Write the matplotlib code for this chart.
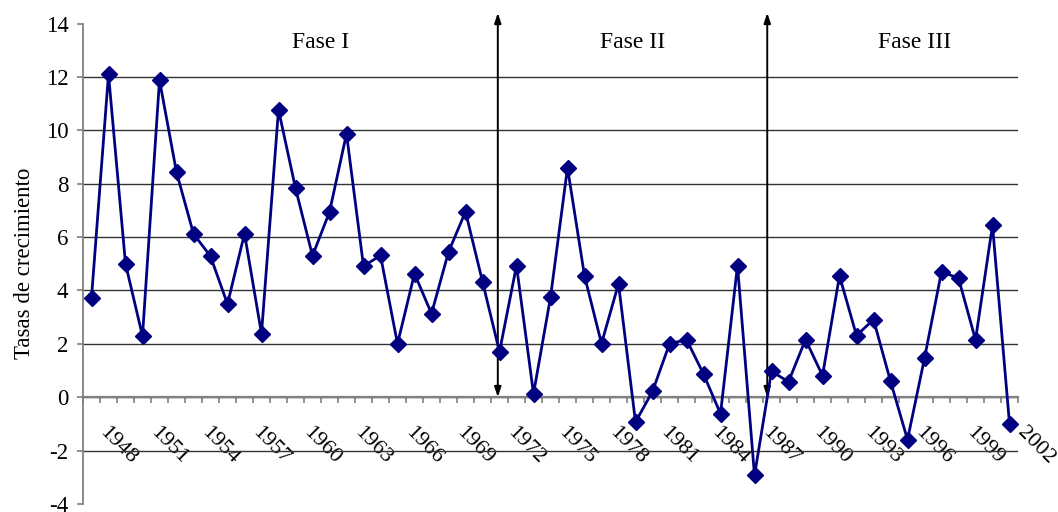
import numpy as np
import matplotlib
matplotlib.use("Agg")
import matplotlib.pyplot as plt
from matplotlib.transforms import ScaledTranslation

# datos
years = list(range(1948, 2003))
growth = [3.73, 12.1, 5.0, 2.29, 11.88, 8.43, 6.12, 5.28, 3.49, 6.13,
          2.38, 10.77, 7.83, 5.3, 6.94, 9.87, 4.91, 5.31, 2.0, 4.63,
          3.13, 5.44, 6.95, 4.33, 1.7, 4.93, 0.13, 3.74, 8.6, 4.55,
          2.01, 4.25, -0.93, 0.22, 2.0, 2.16, 0.87, -0.62, 4.93, -2.93,
          0.97, 0.58, 2.16, 0.81, 4.55, 2.31, 2.91, 0.6, -1.59, 1.46,
          4.7, 4.46, 2.15, 6.44, -0.99]
phase_names = ["Fase I", "Fase II", "Fase III"]
phase_text_x = [13.5, 31.85, 48.4]
phase_breaks = [23.9, 39.75]
yticks = list(range(-4, 15, 2))

plt.rcParams['font.family'] = ['Liberation Serif', 'DejaVu Serif']

fig = plt.figure(figsize=(10.58, 5.12), dpi=100)
ax = fig.add_axes([83 / 1058, 1 - 504 / 512, (1018 - 83) / 1058, (504 - 23.5) / 512])

x = np.arange(len(years))
ax.plot(x, growth, color='#000080', lw=2, marker='D', markersize=8.5,
        markerfacecolor='#000080', markeredgecolor='#000080', zorder=4)

ax.set_xlim(-0.5, len(years) - 0.5)
ax.set_ylim(-4, 14)
ax.set_yticks(yticks)
ax.set_yticklabels([str(v) for v in yticks], fontsize=16.5)

# rejilla sin la primera ni la ultima linea
ax.yaxis.grid(True, color='#333333', lw=1)
ax.set_axisbelow(True)
glines = ax.get_ygridlines()
glines[0].set_visible(False)
glines[-1].set_visible(False)

for s in ['top', 'right']:
    ax.spines[s].set_visible(False)
ax.spines['left'].set_color('#808080')
ax.spines['left'].set_linewidth(1.3)
ax.spines['bottom'].set_position(('data', 0))
ax.spines['bottom'].set_color('#808080')
ax.spines['bottom'].set_linewidth(1.6)

ax.tick_params(axis='y', direction='out', length=4.5, width=1.2, color='#808080', pad=6)

# marcas entre categorias, etiquetas cada 3 anos
ax.set_xticks(np.arange(-0.5, len(years), 1), minor=True)
lab_idx = x[::3]
ax.set_xticks(lab_idx)
ax.set_xticklabels([str(years[i]) for i in lab_idx], fontsize=16, rotation=-45,
                   ha='left', va='center', rotation_mode='anchor')
ax.tick_params(axis='x', which='major', length=0, pad=23.5)
ax.tick_params(axis='x', which='minor', direction='out', length=4.2, width=1.2, color='#808080')
shift = ScaledTranslation(0.11, 0, fig.dpi_scale_trans)
for lab in ax.get_xticklabels():
    lab.set_transform(lab.get_transform() + shift)

ax.set_ylabel("Tasas de crecimiento", fontsize=16.5, labelpad=8)

for xb in phase_breaks:
    ax.annotate('', xy=(xb, 14.4), xytext=(xb, 0), annotation_clip=False,
                arrowprops=dict(arrowstyle='<|-|>,head_length=0.6,head_width=0.2',
                                color='black', lw=1.4, shrinkA=0, shrinkB=0))

for name, px in zip(phase_names, phase_text_x):
    ax.text(px, 13.3, name, fontsize=17, ha='center', va='center')

fig.savefig("out.png", dpi=100)
